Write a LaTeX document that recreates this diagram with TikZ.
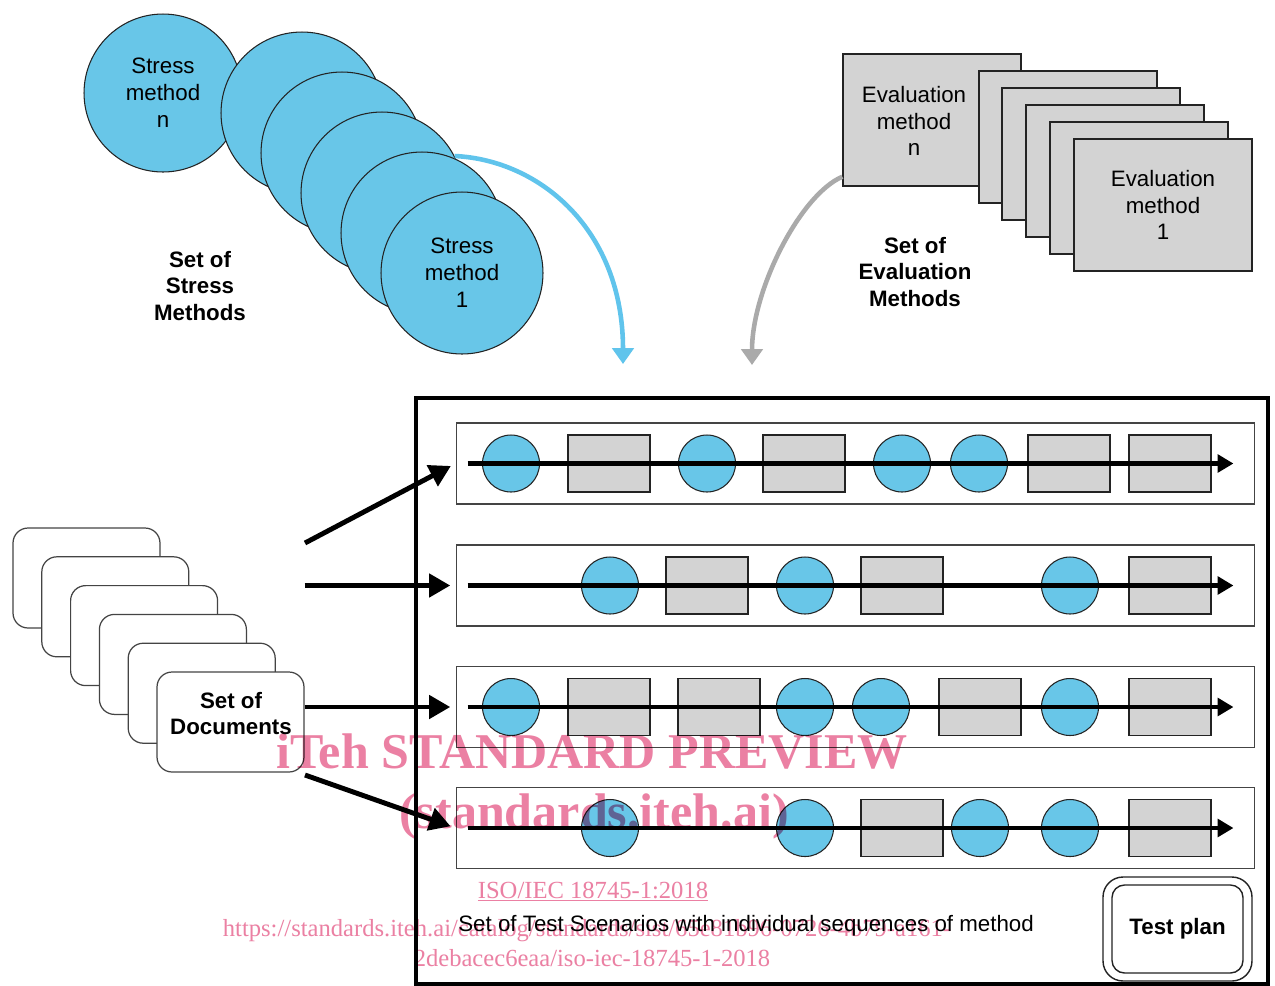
\documentclass[tikz,border=0pt]{standalone}
\usepackage{fontspec}
\usepackage{graphicx}
\setmainfont{Liberation Sans}
\newfontfamily\wmfont{Liberation Serif}
\usetikzlibrary{arrows.meta}
\definecolor{cblue}{RGB}{104,198,232}
\definecolor{ablue}{RGB}{96,196,236}
\definecolor{bgray}{RGB}{211,211,211}
\definecolor{agray}{RGB}{170,170,170}
\definecolor{wpink}{RGB}{235,128,163}
\definecolor{edge}{RGB}{35,35,35}
\tikzset{
  txt/.style={font=\fontsize{12.7}{15.3}\selectfont, align=center, inner sep=0pt},
  btxt/.style={font=\fontsize{12.7}{15.3}\selectfont\bfseries, align=center, inner sep=0pt},
  bigcirc/.style={circle, draw=edge, line width=0.6pt, fill=cblue, minimum size=3.24cm, inner sep=0pt},
  evbox/.style={rectangle, draw=edge, line width=0.8pt, fill=bgray, minimum width=3.56cm, minimum height=2.64cm, inner sep=0pt},
  docbox/.style={rectangle, rounded corners=0.3cm, draw=edge!85, line width=0.7pt, fill=white, minimum width=2.94cm, minimum height=2cm, inner sep=0pt},
  rowbox/.style={rectangle, draw=edge!85, line width=0.6pt, minimum width=15.98cm, minimum height=1.62cm, inner sep=0pt},
  sc/.style={circle, draw=edge, line width=0.6pt, fill=cblue, minimum size=1.14cm, inner sep=0pt},
  ev/.style={rectangle, draw=edge, line width=0.6pt, fill=bgray, minimum width=1.64cm, minimum height=1.14cm, inner sep=0pt},
  seqarrow/.style={line width=2.4pt, -{Triangle[length=9pt,width=10pt]}},
  docarrow/.style={line width=2.8pt, -{Triangle[length=12pt,width=13pt]}},
  bluearrow/.style={draw=ablue, line width=2.6pt, -{Triangle[length=9pt,width=12pt]}},
  grayarrow/.style={draw=agray, line width=2.6pt, -{Triangle[length=9pt,width=12pt]}},
  wmbig/.style={text=wpink, font=\wmfont\fontsize{28.5}{30}\selectfont\bfseries, inner sep=0pt, anchor=base},
  wmsmall/.style={text=wpink, font=\wmfont\fontsize{14}{16}\selectfont, inner sep=0pt, anchor=base}
}
\begin{document}
\begin{tikzpicture}[x=0.02cm, y=-0.02cm]
\useasboundingbox[fill=white] (0,0) rectangle (1275,985);

% ---- Stress methods ----
\node[bigcirc, minimum size=3.16cm, txt] (sn) at (163,93) {Stress\\method\\n};
\node[bigcirc] (s2) at (302,113) {};
\node[bigcirc] (s3) at (342,153) {};
\node[bigcirc] (s4) at (382,193) {};
\node[bigcirc] (s5) at (422,233) {};
\node[bigcirc, txt] (s1) at (462,273) {Stress\\method\\1};
\node[btxt] (stresslbl) at (200,286) {Set of\\Stress\\Methods};
\coordinate (tipS) at (623,364);
\draw[bluearrow] (s4.27) .. controls (540,160) and (623,230) .. (tipS);

% ---- Evaluation methods ----
\node[evbox] (evn) at (932,120) {};
\node[txt] (evntext) at (914,121) {Evaluation\\method\\n};
\node[evbox] (ev2) at (1068,137) {};
\node[evbox] (ev3) at (1091,154) {};
\node[evbox] (ev4) at (1115,171) {};
\node[evbox] (ev5) at (1139,188) {};
\node[evbox, txt] (ev1) at (1163,205) {Evaluation\\method\\1};
\node[btxt] (evallbl) at (915,272) {Set of\\Evaluation\\Methods};
\coordinate (tipE) at (752,365);
\draw[grayarrow] ([yshift=0.2cm]evn.south west) .. controls (800,195) and (752,290) .. (tipE);

% ---- Documents ----
\node[docbox] (d1) at (86.5,578) {};
\node[docbox] (d2) at (115.3,606.8) {};
\node[docbox] (d3) at (144.1,635.6) {};
\node[docbox] (d4) at (172.9,664.4) {};
\node[docbox] (d5) at (201.7,693.2) {};
\node[docbox] (d6) at (230.5,722) {};
\node[btxt] (doctext) at (231,713.5) {Set of\\Documents};

% ---- Test plan box ----
\node[rectangle, draw=black, line width=2.4pt, minimum width=17.04cm, minimum height=11.72cm, inner sep=0pt] (plan) at (842,691) {};

\node[rowbox] (r1) at (855.5,463.5) {};
\node[rowbox] (r2) at (855.5,585.5) {};
\node[rowbox] (r3) at (855.5,707) {};
\node[rowbox] (r4) at (855.5,828) {};

% document arrows
\coordinate (a1s) at (305,543);
\coordinate (a4s) at (305,775);
\draw[docarrow, shorten >=3pt] (a1s) -- (r1.west);
\draw[docarrow, shorten >=3pt] (d6.east |- r2.west) -- (r2.west);
\draw[docarrow, shorten >=3pt] (d6.east |- r3.west) -- (r3.west);
\draw[docarrow, shorten >=3pt] (a4s) -- (r4.west);

% row 1
\node[sc] (r1a) at (511,463.5) {};
\node[ev] (r1b) at (609,463.5) {};
\node[sc] (r1c) at (707,463.5) {};
\node[ev] (r1d) at (804,463.5) {};
\node[sc] (r1e) at (902,463.5) {};
\node[sc] (r1f) at (979,463.5) {};
\node[ev] (r1g) at (1069,463.5) {};
\node[ev] (r1h) at (1170,463.5) {};
% row 2
\node[sc] (r2a) at (610,585.5) {};
\node[ev] (r2b) at (707,585.5) {};
\node[sc] (r2c) at (805,585.5) {};
\node[ev] (r2d) at (902,585.5) {};
\node[sc] (r2e) at (1070,585.5) {};
\node[ev] (r2f) at (1170,585.5) {};
% row 3
\node[sc] (r3a) at (511,707) {};
\node[ev] (r3b) at (609,707) {};
\node[ev] (r3c) at (719,707) {};
\node[sc] (r3d) at (805,707) {};
\node[sc] (r3e) at (881,707) {};
\node[ev] (r3f) at (980,707) {};
\node[sc] (r3g) at (1070,707) {};
\node[ev] (r3h) at (1170,707) {};
% row 4
\node[sc] (r4a) at (610,828) {};
\node[sc] (r4b) at (805,828) {};
\node[ev] (r4c) at (902,828) {};
\node[sc] (r4d) at (980,828) {};
\node[sc] (r4e) at (1070,828) {};
\node[ev] (r4f) at (1170,828) {};

\foreach \r in {r1,r2,r3,r4}
  \draw[seqarrow] ([xshift=0.24cm]\r.west) -- ([xshift=-0.44cm]\r.east);

% test plan
\node[rectangle, rounded corners=0.4cm, draw=edge, line width=0.8pt, minimum width=2.98cm, minimum height=2.08cm, inner sep=0pt] (tpo) at (1177.5,929) {};
\node[rectangle, rounded corners=0.25cm, draw=edge, line width=0.8pt, minimum width=2.62cm, minimum height=1.76cm, inner sep=0pt, btxt] (tpi) at (1177.5,929) {Test plan};

% watermark (behind caption)
\begin{scope}[blend mode=multiply]
\node[wmsmall] (wm3) at (593,898) {\underline{ISO/IEC 18745-1:2018}};
\node[wmsmall] (wm4) at (587,936) {https://standards.iteh.ai/catalog/standards/sist/65e81b96-0726-4b79-a161-};
\node[wmsmall] (wm5) at (592,966) {2debacec6eaa/iso-iec-18745-1-2018};
\end{scope}

\node[txt, anchor=west] (caption) at (458,926) {Set of Test Scenarios with individual sequences of method};

\begin{scope}[blend mode=multiply]
\node[wmbig] (wm1) at (592,768) {iTeh STANDARD PREVIEW};
\node[wmbig] (wm2) at (594,828) {(standards.iteh.ai)};
\end{scope}
\end{tikzpicture}
\end{document}
